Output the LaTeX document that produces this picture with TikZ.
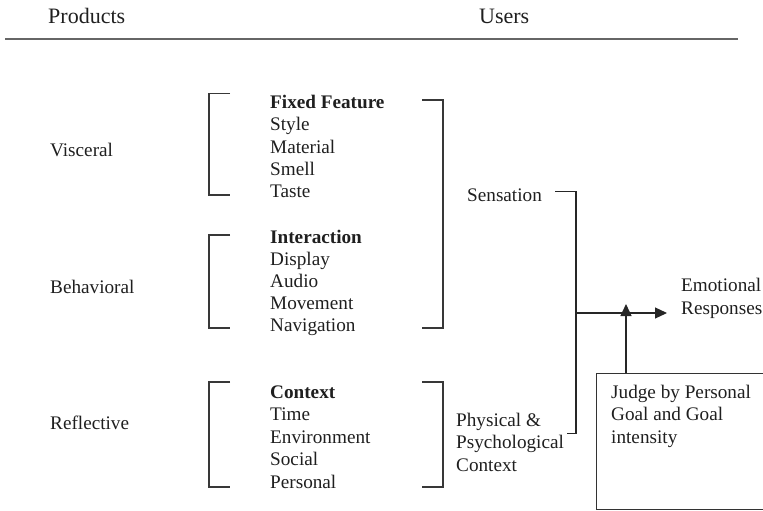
\documentclass[tikz,border=0pt]{standalone}
\usepackage{fontspec}
\setmainfont{Liberation Serif}
\usetikzlibrary{arrows.meta}
\begin{document}
\begin{tikzpicture}[x=1pt,y=-1pt,
  txt/.style={font=\fontsize{19.2}{22}\selectfont, inner sep=0pt, anchor=base west, text=black!88},
  hd/.style={font=\fontsize{22}{26}\selectfont, inner sep=0pt, anchor=base west, text=black!88},
  brk/.style={draw=black!78, line width=1.2pt},
  conn/.style={draw=black!85, line width=1.2pt},
  tip/.style={-{Triangle[length=12pt,width=11pt]}},
  rule/.style={draw=black!60, line width=2.2pt}]
\useasboundingbox (0,0) rectangle (763,511);

% header
\node[hd] (prod) at (48,23.5) {Products};
\node[hd] (users) at (479,23.5) {Users};
\coordinate (ruleL) at (5,39.3);
\coordinate (ruleR) at (738,39.3);
\draw[rule] (ruleL) -- (ruleR);

% product levels
\node[txt] (visc) at (50,156.5) {Visceral};
\node[txt] (behav) at (50,293.5) {Behavioral};
\node[txt] (refl) at (50,429.5) {Reflective};

% fixed features
\node[txt] (ffh) at (270,108.5) {\textbf{Fixed Feature}};
\foreach \t [count=\i] in {Style,Material,Smell,Taste}
  \node[txt, name=ff\i] at (270,108.5+22.25*\i) {\t};

% interaction
\node[txt] (inh) at (270,243.5) {\textbf{Interaction}};
\foreach \t [count=\i] in {Display,Audio,Movement,Navigation}
  \node[txt, name=in\i] at (270,243.5+22.1*\i) {\t};

% context
\node[txt] (cxh) at (270,398.5) {\textbf{Context}};
\foreach \t [count=\i] in {Time,Environment,Social,Personal}
  \node[txt, name=cx\i] at (270,398.5+22.4*\i) {\t};

% brackets
\draw[brk] (230,93.5) -- (209,93.5) -- (209,195) -- (230,195);
\draw[brk] (230,235) -- (209,235) -- (209,328) -- (230,328);
\draw[brk] (422,100) -- (443,100) -- (443,328) -- (422,328);
\draw[brk] (230,382) -- (209,382) -- (209,487) -- (230,487);
\draw[brk] (422,382) -- (443,382) -- (443,487) -- (422,487);

% user side
\node[txt] (sens) at (467,201.5) {Sensation};
\node[txt] (phys1) at (456,426.5) {Physical \&};
\node[txt] (phys2) at (456,448.8) {Psychological};
\node[txt] (phys3) at (456,471.1) {Context};

\node[txt] (emo1) at (681,291.5) {Emotional};
\node[txt] (emo2) at (681,314) {Responses};

% judgement box (its right side runs past the page edge)
\node[draw=black!80, line width=1.2pt, inner sep=0pt, minimum width=172pt, minimum height=136pt, anchor=north west] (judge) at (596,373) {};
\node[txt] (jd1) at (611,398.5) {Judge by Personal};
\node[txt] (jd2) at (611,420.8) {Goal and Goal};
\node[txt] (jd3) at (611,443.1) {intensity};

% connectors
\coordinate (sensEnd) at (555,191.5);
\coordinate (physEnd) at (566.5,433.5);
\coordinate (join) at (576,313);
\coordinate (emoTip) at (667,313);
\coordinate (judgeTip) at (626,304);
\coordinate (judgeTop) at (626,373);
\draw[conn] (sensEnd) -- (sensEnd -| join) -- (physEnd -| join) -- (physEnd);
\draw[conn, tip] (join) -- (emoTip);
\draw[conn, tip] (judgeTop) -- (judgeTip);
\end{tikzpicture}
\end{document}
